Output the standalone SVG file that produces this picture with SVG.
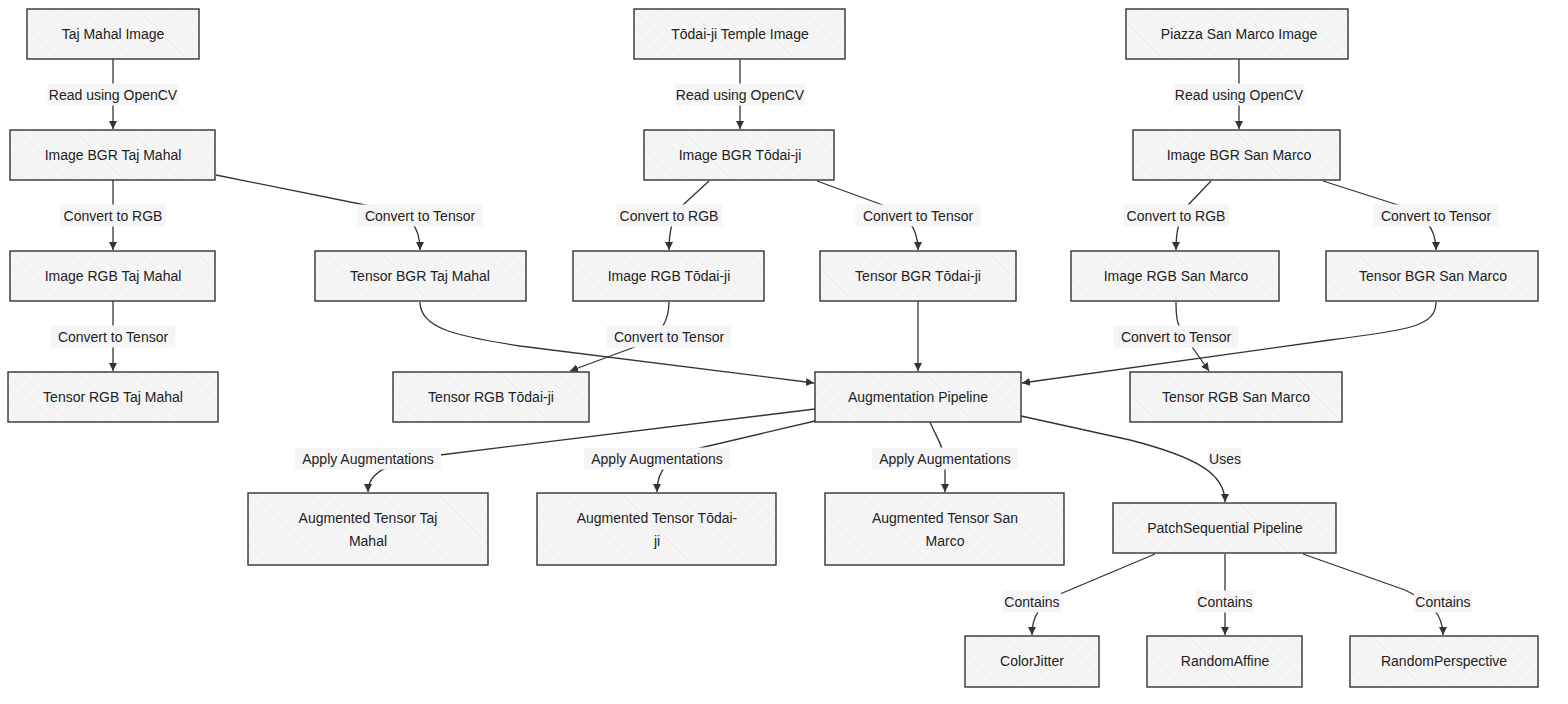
<svg xmlns="http://www.w3.org/2000/svg" width="1568" height="704" viewBox="0 0 1568 704">
<style>
.node rect{fill:url(#hatch);stroke:#333;stroke-width:1.4}
.node text{font-family:"Liberation Sans",Arial,sans-serif;font-size:14px;fill:#222;text-anchor:middle;dominant-baseline:central}
.edge{fill:none;stroke:#333;stroke-width:1.3}
.lbl rect{fill:#f5f5f5;stroke:none}
.lbl text{font-family:"Liberation Sans",Arial,sans-serif;font-size:14px;fill:#222;text-anchor:middle;dominant-baseline:central}
</style>
<defs>
<pattern id="hatch" patternUnits="userSpaceOnUse" width="10" height="10" patternTransform="rotate(-45)">
<rect width="10" height="10" fill="#f5f5f5"/>
<line x1="0" y1="0" x2="0" y2="10" stroke="#e6e6e6" stroke-width="1"/>
</pattern>
<marker id="arr" viewBox="0 0 10 10" refX="10" refY="5" markerWidth="8" markerHeight="8" markerUnits="userSpaceOnUse" orient="auto">
<path d="M0,0 L10,5 L0,10 z" fill="#333"/>
</marker>
</defs>
<rect width="1568" height="704" fill="#ffffff"/>

<g id="connectors">
<path class="edge" marker-end="url(#arr)" d="M113,59 L113,129"/>
<path class="edge" marker-end="url(#arr)" d="M740,59 L740,129"/>
<path class="edge" marker-end="url(#arr)" d="M1239,59 L1239,129"/>
<path class="edge" marker-end="url(#arr)" d="M113,180 L113,250"/>
<path class="edge" marker-end="url(#arr)" d="M216,175 L380,208 C410,215 420,225 420,250"/>
<path class="edge" marker-end="url(#arr)" d="M709,181 L684,204 C672,218 669,230 669,250"/>
<path class="edge" marker-end="url(#arr)" d="M817,181 L880,204 C908,214 918,228 918,250"/>
<path class="edge" marker-end="url(#arr)" d="M1211,181 L1189,204 C1179,218 1176,230 1176,250"/>
<path class="edge" marker-end="url(#arr)" d="M1323,181 L1395,204 C1425,214 1436,228 1436,250"/>
<path class="edge" marker-end="url(#arr)" d="M113,301 L113,371"/>
<path class="edge" marker-end="url(#arr)" d="M669,302 C669,320 662,334 640,345 L570,371"/>
<path class="edge" marker-end="url(#arr)" d="M1176,302 C1176,320 1178,326 1183,334 L1209,371"/>
<path class="edge" marker-end="url(#arr)" d="M420,302 C420,328 455,336 520,346 L814,383"/>
<path class="edge" marker-end="url(#arr)" d="M918,301 L918,371"/>
<path class="edge" marker-end="url(#arr)" d="M1436,302 C1436,326 1410,330 1330,340 L1022,383"/>
<path class="edge" marker-end="url(#arr)" d="M815,409 L440,455 C392,462 368,470 368,492"/>
<path class="edge" marker-end="url(#arr)" d="M815,421 L700,448 C667,458 657,470 657,492"/>
<path class="edge" marker-end="url(#arr)" d="M930,422 C936,436 945,450 945,462 L945,492"/>
<path class="edge" marker-end="url(#arr)" d="M1021,416 L1130,440 C1200,458 1225,475 1225,502"/>
<path class="edge" marker-end="url(#arr)" d="M1155,554 L1060,594 C1040,605 1032,615 1032,635"/>
<path class="edge" marker-end="url(#arr)" d="M1225,554 L1225,635"/>
<path class="edge" marker-end="url(#arr)" d="M1303,554 L1405,590 C1432,603 1443,615 1443,635"/>

<g class="lbl"><rect x="47.5" y="83.5" width="131" height="22"/><text x="113" y="94.5">Read using OpenCV</text></g>
<g class="lbl"><rect x="674.5" y="83.5" width="131" height="22"/><text x="740" y="94.5">Read using OpenCV</text></g>
<g class="lbl"><rect x="1173.5" y="83.5" width="131" height="22"/><text x="1239" y="94.5">Read using OpenCV</text></g>
<g class="lbl"><rect x="60" y="204.5" width="106" height="22"/><text x="113" y="215.5">Convert to RGB</text></g>
<g class="lbl"><rect x="357.5" y="204.5" width="125" height="22"/><text x="420" y="215.5">Convert to Tensor</text></g>
<g class="lbl"><rect x="616" y="204.5" width="106" height="22"/><text x="669" y="215.5">Convert to RGB</text></g>
<g class="lbl"><rect x="855.5" y="204.5" width="125" height="22"/><text x="918" y="215.5">Convert to Tensor</text></g>
<g class="lbl"><rect x="1123" y="204.5" width="106" height="22"/><text x="1176" y="215.5">Convert to RGB</text></g>
<g class="lbl"><rect x="1373.5" y="204.5" width="125" height="22"/><text x="1436" y="215.5">Convert to Tensor</text></g>
<g class="lbl"><rect x="50.5" y="325.5" width="125" height="22"/><text x="113" y="336.5">Convert to Tensor</text></g>
<g class="lbl"><rect x="606.5" y="325.5" width="125" height="22"/><text x="669" y="336.5">Convert to Tensor</text></g>
<g class="lbl"><rect x="1113.5" y="325.5" width="125" height="22"/><text x="1176" y="336.5">Convert to Tensor</text></g>
<g class="lbl"><rect x="295" y="447.5" width="146" height="22"/><text x="368" y="458.5">Apply Augmentations</text></g>
<g class="lbl"><rect x="584" y="447.5" width="146" height="22"/><text x="657" y="458.5">Apply Augmentations</text></g>
<g class="lbl"><rect x="872" y="447.5" width="146" height="22"/><text x="945" y="458.5">Apply Augmentations</text></g>
<g class="lbl"><rect x="1208.5" y="447.5" width="33" height="22"/><text x="1225" y="458.5">Uses</text></g>
<g class="lbl"><rect x="1003" y="590.5" width="58" height="22"/><text x="1032" y="601.5">Contains</text></g>
<g class="lbl"><rect x="1196" y="590.5" width="58" height="22"/><text x="1225" y="601.5">Contains</text></g>
<g class="lbl"><rect x="1414" y="590.5" width="58" height="22"/><text x="1443" y="601.5">Contains</text></g>
</g>

<g id="taj_img" class="node"><rect x="27" y="9" width="172" height="50"/><text x="113" y="34">Taj Mahal Image</text></g>
<g id="todai_img" class="node"><rect x="634" y="9" width="211" height="50"/><text x="740" y="34">Tōdai-ji Temple Image</text></g>
<g id="marco_img" class="node"><rect x="1126" y="9" width="222" height="50"/><text x="1239" y="34">Piazza San Marco Image</text></g>

<g id="taj_bgr" class="node"><rect x="10" y="130" width="205" height="50"/><text x="113" y="155">Image BGR Taj Mahal</text></g>
<g id="todai_bgr" class="node"><rect x="644" y="130" width="190" height="50"/><text x="740" y="155">Image BGR Tōdai-ji</text></g>
<g id="marco_bgr" class="node"><rect x="1133" y="130" width="207" height="50"/><text x="1239" y="155">Image BGR San Marco</text></g>

<g id="taj_rgb" class="node"><rect x="10" y="251" width="205" height="50"/><text x="113" y="276">Image RGB Taj Mahal</text></g>
<g id="taj_tbgr" class="node"><rect x="315" y="251" width="211" height="50"/><text x="420" y="276">Tensor BGR Taj Mahal</text></g>
<g id="todai_rgb" class="node"><rect x="573" y="251" width="191" height="50"/><text x="669" y="276">Image RGB Tōdai-ji</text></g>
<g id="todai_tbgr" class="node"><rect x="820" y="251" width="196" height="50"/><text x="918" y="276">Tensor BGR Tōdai-ji</text></g>
<g id="marco_rgb" class="node"><rect x="1071" y="251" width="208" height="50"/><text x="1176" y="276">Image RGB San Marco</text></g>
<g id="marco_tbgr" class="node"><rect x="1326" y="251" width="212" height="50"/><text x="1433" y="276">Tensor BGR San Marco</text></g>

<g id="taj_trgb" class="node"><rect x="8" y="372" width="210" height="50"/><text x="113" y="397">Tensor RGB Taj Mahal</text></g>
<g id="todai_trgb" class="node"><rect x="393" y="372" width="196" height="50"/><text x="491" y="397">Tensor RGB Tōdai-ji</text></g>
<g id="aug" class="node"><rect x="815" y="372" width="206" height="50"/><text x="918" y="397">Augmentation Pipeline</text></g>
<g id="marco_trgb" class="node"><rect x="1130" y="372" width="212" height="50"/><text x="1236" y="397">Tensor RGB San Marco</text></g>

<g id="taj_aug" class="node"><rect x="248" y="493" width="240" height="72"/><text x="368" y="518">Augmented Tensor Taj</text><text x="368" y="541">Mahal</text></g>
<g id="todai_aug" class="node"><rect x="537" y="493" width="239" height="72"/><text x="657" y="518">Augmented Tensor Tōdai-</text><text x="657" y="541">ji</text></g>
<g id="marco_aug" class="node"><rect x="825" y="493" width="239" height="72"/><text x="945" y="518">Augmented Tensor San</text><text x="945" y="541">Marco</text></g>
<g id="patch" class="node"><rect x="1113" y="503" width="223" height="50"/><text x="1225" y="528">PatchSequential Pipeline</text></g>

<g id="colorjitter" class="node"><rect x="965" y="636" width="134" height="51"/><text x="1032" y="661">ColorJitter</text></g>
<g id="randomaffine" class="node"><rect x="1147" y="636" width="155" height="51"/><text x="1225" y="661">RandomAffine</text></g>
<g id="randomperspective" class="node"><rect x="1350" y="636" width="188" height="51"/><text x="1444" y="661">RandomPerspective</text></g>
</svg>
